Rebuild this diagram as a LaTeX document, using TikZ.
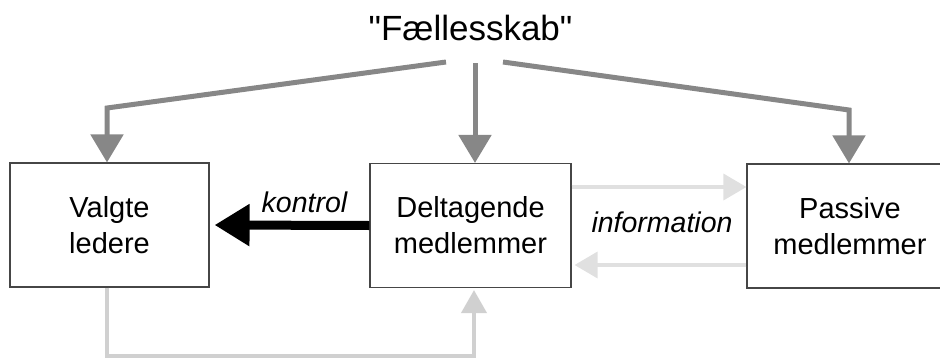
\documentclass[tikz,border=0pt]{standalone}
\usepackage{fontspec}
\setmainfont{Liberation Sans}
\newfontfamily\titlefont{Liberation Sans}[Ligatures=TeXOff]
\usetikzlibrary{arrows.meta,calc}
\definecolor{topgray}{RGB}{135,135,135}
\definecolor{infogray}{RGB}{224,224,224}
\definecolor{loopgray}{RGB}{208,208,208}
\definecolor{boxline}{RGB}{70,70,70}
\begin{document}
\begin{tikzpicture}[x=1pt,y=-1pt,
  box/.style={draw=boxline, line width=1.1pt, align=center, inner sep=0pt,
    font=\fontsize{29}{36}\selectfont, minimum height=124pt},
  toparrow/.style={draw=topgray, line width=5pt, line join=miter,
    -{Triangle[length=28pt,width=32pt]}},
  infoarrow/.style={draw=infogray, line width=3.5pt,
    -{Triangle[length=23pt,width=26pt]}},
  looparrow/.style={draw=loopgray, line width=4pt, line join=miter,
    -{Triangle[length=23pt,width=25pt]}},
  ctrlarrow/.style={draw=black, line width=9pt,
    -{Triangle[length=35pt,width=40pt]}},
  lbl/.style={font=\fontsize{28.5}{34}\selectfont\itshape, inner sep=0pt, anchor=base}
]
\useasboundingbox (0,0) rectangle (940,359);
\clip (0,0) rectangle (940,359);

\node[anchor=base, inner sep=0pt, font=\titlefont\fontsize{35}{42}\selectfont] (title) at (470.5,40) {"Fællesskab"};

\node[box, minimum width=199pt] (vl) at (109.5,225) {Valgte\\ledere};
\node[box, minimum width=201pt] (dm) at (470.5,225.5) {Deltagende\\medlemmer};
\node[box, minimum width=206pt] (pm) at (850,226) {Passive\\medlemmer};

\coordinate (sL) at (446,62);
\coordinate (bL) at (107,108);
\coordinate (sM) at (475,63);
\coordinate (sR) at (503,62);
\coordinate (bR) at (849,110);
\coordinate (infoT) at (0,187);
\coordinate (infoB) at (0,265);
\coordinate (loopL) at (107,356);
\coordinate (loopR) at (474,356);

\draw[toparrow] (sL) -- (bL) -- (bL |- vl.north);
\draw[toparrow] (sM) -- (sM |- dm.north);
\draw[toparrow] (sR) -- (bR) -- (bR |- pm.north);

\draw[ctrlarrow] (dm.west) -- ($(vl.east)+(5,0)$);
\node[lbl] (kontrol) at (304.5,212) {kontrol};

\draw[infoarrow] (dm.east |- infoT) -- (pm.west |- infoT);
\draw[infoarrow] (pm.west |- infoB) -- ($(dm.east |- infoB)+(3,0)$);
\node[lbl] (information) at (662,232) {information};

\draw[looparrow] (loopL |- vl.south) -- (loopL) -- (loopR) -- ($(loopR |- dm.south)+(0,2)$);
\end{tikzpicture}
\end{document}
